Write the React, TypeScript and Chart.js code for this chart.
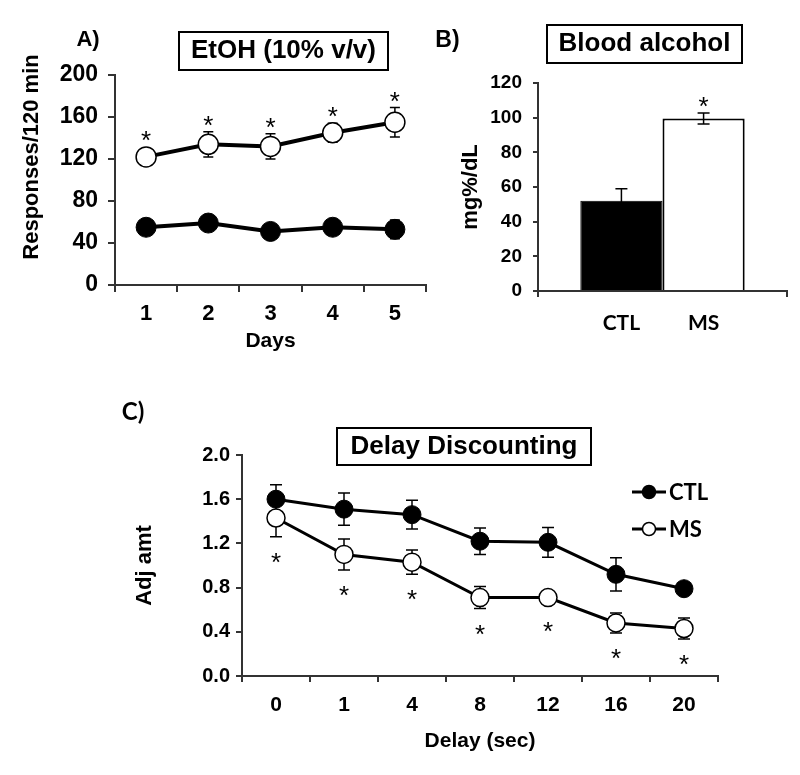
import React, { useEffect, useRef } from 'react';
import { Chart, registerables } from 'chart.js';

Chart.register(...registerables);

// ---------- Panel A: EtOH (10% v/v) ----------
const daysLabels = ['1', '2', '3', '4', '5'];
const etohCTL = [55, 59, 51, 55, 53];
const etohCTLErr = [4, 4, 4, 4, 9];
const etohMS = [122, 134, 132, 145, 155];
const etohMSErr = [4, 12, 12, 9, 14];
const etohMSSig = [true, true, true, true, true];
const etohTicks = { min: 0, max: 200, step: 40 };

// ---------- Panel B: Blood alcohol ----------
const bloodGroups = ['CTL', 'MS'];
const bloodValues = [52, 99.5];
const bloodErr = [7, 3.2];
const bloodSig = [false, true];
const bloodTicks = { min: 0, max: 120, step: 20 };

// ---------- Panel C: Delay Discounting ----------
const delayLabels = ['0', '1', '4', '8', '12', '16', '20'];
const delayCTL = [1.6, 1.51, 1.46, 1.22, 1.21, 0.92, 0.79];
const delayCTLErr = [0.13, 0.145, 0.13, 0.12, 0.135, 0.15, 0.03];
const delayMS = [1.43, 1.1, 1.03, 0.71, 0.71, 0.48, 0.43];
const delayMSErr = [0.17, 0.14, 0.11, 0.1, 0.03, 0.09, 0.095];
const delayMSSig = [true, true, true, true, true, true, true];
const delayTicks = { min: 0, max: 2, step: 0.4 };

const ARIAL = '"Liberation Sans", Arial, sans-serif';
const CALIBRI = 'Lato, "Open Sans", sans-serif';
const AXIS = '#333';

type ErrSet = { datasetIndex: number; errors: number[]; cap: number; width: number };

function makeErrorBars(id: string, sets: ErrSet[], layer: 'before' | 'after') {
  const draw = (chart: any) => {
    const ctx = chart.ctx;
    const ys = chart.scales.y;
    ctx.save();
    ctx.strokeStyle = '#000';
    sets.forEach((s) => {
      const meta = chart.getDatasetMeta(s.datasetIndex);
      const vals = chart.data.datasets[s.datasetIndex].data as number[];
      meta.data.forEach((el: any, i: number) => {
        const v = vals[i];
        const e = s.errors[i];
        const t = ys.getPixelForValue(v + e);
        const b = ys.getPixelForValue(v - e);
        ctx.lineWidth = s.width;
        ctx.beginPath();
        ctx.moveTo(el.x, t);
        ctx.lineTo(el.x, b);
        ctx.moveTo(el.x - s.cap, t);
        ctx.lineTo(el.x + s.cap, t);
        ctx.moveTo(el.x - s.cap, b);
        ctx.lineTo(el.x + s.cap, b);
        ctx.stroke();
      });
    });
    ctx.restore();
  };
  return {
    id,
    beforeDatasetsDraw(chart: any) {
      if (layer === 'before') draw(chart);
    },
    afterDatasetsDraw(chart: any) {
      if (layer === 'after') draw(chart);
    },
  };
}

type StarSpec = {
  datasetIndex: number;
  errors: number[];
  flags: boolean[];
  dir: 'up' | 'down';
  gap: number;
  radius: number;
  size: number;
};

function makeStars(id: string, specs: StarSpec[]) {
  return {
    id,
    afterDatasetsDraw(chart: any) {
      const ctx = chart.ctx;
      const ys = chart.scales.y;
      ctx.save();
      ctx.fillStyle = '#000';
      ctx.textAlign = 'center';
      ctx.textBaseline = 'alphabetic';
      specs.forEach((s) => {
        ctx.font = `${s.size}px ${ARIAL}`;
        const meta = chart.getDatasetMeta(s.datasetIndex);
        const vals = chart.data.datasets[s.datasetIndex].data as number[];
        meta.data.forEach((el: any, i: number) => {
          if (!s.flags[i]) return;
          const v = vals[i];
          const e = s.errors[i];
          let cy: number;
          if (s.dir === 'up') {
            cy = Math.min(ys.getPixelForValue(v + e), el.y - s.radius) - s.gap;
          } else {
            cy = Math.max(ys.getPixelForValue(v - e), el.y + s.radius) + s.gap;
          }
          ctx.fillText('*', el.x, cy + 0.575 * s.size);
        });
      });
      ctx.restore();
    },
  };
}

type TextItem = {
  text: string;
  x: number;
  y: number;
  font: string;
  align?: CanvasTextAlign;
  rotate?: number;
  box?: [number, number];
};

function makeTexts(id: string, items: TextItem[]) {
  return {
    id,
    afterDraw(chart: any) {
      const ctx = chart.ctx;
      items.forEach((it) => {
        ctx.save();
        ctx.translate(it.x, it.y);
        if (it.rotate) ctx.rotate(it.rotate);
        if (it.box) {
          ctx.lineWidth = 2;
          ctx.strokeStyle = '#000';
          ctx.strokeRect(-it.box[0] / 2, -it.box[1] / 2, it.box[0], it.box[1]);
        }
        ctx.font = it.font;
        ctx.fillStyle = '#000';
        ctx.textAlign = it.align || 'center';
        ctx.textBaseline = 'middle';
        ctx.fillText(it.text, 0, 0);
        ctx.restore();
      });
    },
  };
}

function makeBarLabels(id: string, names: string[], y: number, font: string) {
  return {
    id,
    afterDraw(chart: any) {
      const ctx = chart.ctx;
      ctx.save();
      ctx.font = font;
      ctx.fillStyle = '#000';
      ctx.textAlign = 'center';
      ctx.textBaseline = 'middle';
      names.forEach((n, i) => {
        const el = chart.getDatasetMeta(i).data[0];
        if (el) ctx.fillText(n, el.x, y);
      });
      ctx.restore();
    },
  };
}

function makeLegend(id: string, x0: number, x1: number, rows: { y: number; fill: string }[], r: number, font: string) {
  return {
    id,
    afterDraw(chart: any) {
      const ctx = chart.ctx;
      ctx.save();
      rows.forEach((row, i) => {
        const ds = chart.data.datasets[i];
        ctx.strokeStyle = '#000';
        ctx.lineWidth = 3;
        ctx.beginPath();
        ctx.moveTo(x0, row.y);
        ctx.lineTo(x1, row.y);
        ctx.stroke();
        ctx.beginPath();
        ctx.arc((x0 + x1) / 2, row.y, r, 0, Math.PI * 2);
        ctx.fillStyle = row.fill;
        ctx.fill();
        ctx.lineWidth = 1.5;
        ctx.stroke();
        ctx.font = font;
        ctx.fillStyle = '#000';
        ctx.textAlign = 'left';
        ctx.textBaseline = 'middle';
        ctx.fillText(ds.label, x1 + 3, row.y + 1);
      });
      ctx.restore();
    },
  };
}

const bold = (size: number, family = ARIAL) => ({ family, size, weight: 'bold' as const });

function axisX(tickSize: number, tickPad: number, tickLen: number, title: string | null, titleSize: number, titlePad: number, height: number, showTicks = true) {
  return {
    type: 'category' as const,
    offset: true,
    grid: { offset: true, drawOnChartArea: false, drawTicks: true, tickLength: tickLen, color: AXIS, lineWidth: 2 },
    border: { display: true, color: AXIS, width: 2 },
    ticks: { display: showTicks, font: bold(tickSize), color: '#000', padding: tickPad, maxRotation: 0, autoSkip: false },
    title: title
      ? { display: true, text: title, font: bold(titleSize), color: '#000', padding: { top: 0, bottom: titlePad } }
      : { display: false },
    afterFit: (s: any) => {
      s.height = height;
    },
  };
}

function axisY(
  t: { min: number; max: number; step: number },
  tickSize: number,
  tickPad: number,
  tickLen: number,
  width: number,
  decimals: number,
  title: string | null,
  titleSize: number,
  titlePadTop: number
) {
  return {
    type: 'linear' as const,
    min: t.min,
    max: t.max,
    grid: { drawOnChartArea: false, drawTicks: true, tickLength: tickLen, color: AXIS, lineWidth: 2 },
    border: { display: true, color: AXIS, width: 2 },
    ticks: {
      stepSize: t.step,
      font: bold(tickSize),
      color: '#000',
      padding: tickPad,
      callback: (v: any) => Number(v).toFixed(decimals),
    },
    title: title
      ? { display: true, text: title, font: bold(titleSize), color: '#000', padding: { top: titlePadTop, bottom: 0 } }
      : { display: false },
    afterFit: (s: any) => {
      s.width = width;
    },
  };
}

const baseOptions = {
  responsive: false,
  animation: false as const,
  events: [] as any[],
  plugins: { legend: { display: false }, tooltip: { enabled: false } },
};

function configA(): any {
  return {
    type: 'line',
    data: {
      labels: daysLabels,
      datasets: [
        {
          label: 'CTL',
          data: etohCTL,
          borderColor: '#000',
          borderWidth: 4,
          pointRadius: 10,
          pointBackgroundColor: '#000',
          pointBorderColor: '#000',
          pointBorderWidth: 1,
        },
        {
          label: 'MS',
          data: etohMS,
          borderColor: '#000',
          borderWidth: 4,
          pointRadius: 10,
          pointBackgroundColor: '#fff',
          pointBorderColor: '#000',
          pointBorderWidth: 1.5,
        },
      ],
    },
    options: {
      ...baseOptions,
      layout: { padding: { left: 0, top: 75, right: 14, bottom: 0 } },
      scales: {
        x: axisX(22, 9, 7, 'Days', 21, 6, 75),
        y: axisY(etohTicks, 23, 10, 7, 115, 0, null, 0, 0),
      },
    },
    plugins: [
      makeErrorBars(
        'errA',
        [
          { datasetIndex: 0, errors: etohCTLErr, cap: 5, width: 1.5 },
          { datasetIndex: 1, errors: etohMSErr, cap: 5, width: 1.5 },
        ],
        'before'
      ),
      makeStars('starsA', [{ datasetIndex: 1, errors: etohMSErr, flags: etohMSSig, dir: 'up', gap: 13, radius: 10, size: 26 }]),
      makeTexts('textA', [
        { text: 'A)', x: 88, y: 40, font: `bold 22px ${ARIAL}` },
        { text: 'EtOH (10% v/v)', x: 283.5, y: 51, font: `bold 26px ${ARIAL}`, box: [209, 38] },
        { text: 'Responses/120 min', x: 32, y: 157, font: `bold 22px ${ARIAL}`, rotate: -Math.PI / 2 },
      ]),
    ],
  };
}

function configB(): any {
  return {
    type: 'bar',
    data: {
      labels: [''],
      datasets: bloodGroups.map((g, i) => ({
        label: g,
        data: [bloodValues[i]],
        backgroundColor: i === 0 ? '#000' : '#fff',
        borderColor: '#000',
        borderWidth: i === 0 ? 1 : 2,
        categoryPercentage: 0.66,
        barPercentage: 1,
      })),
    },
    options: {
      ...baseOptions,
      layout: { padding: { left: 0, top: 83, right: 13, bottom: 0 } },
      scales: {
        x: axisX(17, 5, 6, null, 0, 0, 69, false),
        y: axisY(bloodTicks, 19, 11, 5, 138, 0, 'mg%/dL', 22, 58),
      },
    },
    plugins: [
      makeErrorBars(
        'errB',
        bloodGroups.map((_, i) => ({ datasetIndex: i, errors: [bloodErr[i]], cap: 6, width: 1.5 })),
        'after'
      ),
      makeStars(
        'starsB',
        bloodGroups
          .map((_, i) => ({ datasetIndex: i, errors: [bloodErr[i]], flags: [bloodSig[i]], dir: 'up' as const, gap: 13, radius: 0, size: 26 }))
      ),
      makeBarLabels('labelsB', bloodGroups, 323, `bold 21px ${CALIBRI}`),
      makeTexts('textB', [
        { text: 'B)', x: 47.5, y: 41, font: `bold 23px ${ARIAL}` },
        { text: 'Blood alcohol', x: 244.5, y: 44, font: `bold 26px ${ARIAL}`, box: [195, 38] },
      ]),
    ],
  };
}

function configC(): any {
  return {
    type: 'line',
    data: {
      labels: delayLabels,
      datasets: [
        {
          label: 'CTL',
          data: delayCTL,
          borderColor: '#000',
          borderWidth: 3,
          pointRadius: 9,
          pointBackgroundColor: '#000',
          pointBorderColor: '#000',
          pointBorderWidth: 1,
        },
        {
          label: 'MS',
          data: delayMS,
          borderColor: '#000',
          borderWidth: 3,
          pointRadius: 9,
          pointBackgroundColor: '#fff',
          pointBorderColor: '#000',
          pointBorderWidth: 1.5,
        },
      ],
    },
    options: {
      ...baseOptions,
      layout: { padding: { left: 0, top: 75, right: 82, bottom: 0 } },
      scales: {
        x: axisX(21, 11, 6, 'Delay (sec)', 21, 21, 99),
        y: axisY(delayTicks, 20, 6, 6, 242, 1, 'Adj amt', 22, 132),
      },
    },
    plugins: [
      makeErrorBars(
        'errC',
        [
          { datasetIndex: 0, errors: delayCTLErr, cap: 6, width: 1.5 },
          { datasetIndex: 1, errors: delayMSErr, cap: 6, width: 1.5 },
        ],
        'before'
      ),
      makeStars('starsC', [{ datasetIndex: 1, errors: delayMSErr, flags: delayMSSig, dir: 'down', gap: 19, radius: 9, size: 26 }]),
      makeLegend(
        'legendC',
        632,
        666,
        [
          { y: 112, fill: '#000' },
          { y: 149, fill: '#fff' },
        ],
        6.5,
        `bold 22px ${CALIBRI}`
      ),
      makeTexts('textC', [
        { text: 'C)', x: 133, y: 32, font: `bold 24px ${CALIBRI}` },
        { text: 'Delay Discounting', x: 464, y: 66.5, font: `bold 26px ${ARIAL}`, box: [254, 37] },
      ]),
    ],
  };
}

function Panel(props: { left: number; top: number; width: number; height: number; build: () => any }) {
  const ref = useRef<HTMLCanvasElement>(null);
  useEffect(() => {
    const chart = new Chart(ref.current as HTMLCanvasElement, props.build());
    return () => chart.destroy();
  }, []);
  return (
    <canvas
      ref={ref}
      width={props.width}
      height={props.height}
      style={{ position: 'absolute', left: props.left, top: props.top, width: props.width, height: props.height, display: 'block' }}
    />
  );
}

export default function App() {
  return (
    <div style={{ position: 'absolute', left: 0, top: 0, width: 800, height: 775, background: '#fff', overflow: 'hidden' }}>
      <Panel left={0} top={0} width={440} height={360} build={configA} />
      <Panel left={400} top={0} width={400} height={360} build={configB} />
      <Panel left={0} top={380} width={800} height={395} build={configC} />
    </div>
  );
}
